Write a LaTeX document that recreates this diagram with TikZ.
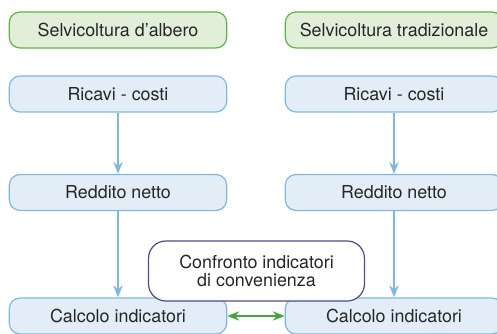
\documentclass[tikz,border=0pt]{standalone}
\usepackage{fontspec}
\setmainfont{TeX Gyre Heros}
\usetikzlibrary{positioning}
\usetikzlibrary{arrows.meta}

\definecolor{greenline}{RGB}{95,180,70}
\definecolor{greenfill}{RGB}{226,239,216}
\definecolor{blueline}{RGB}{125,185,228}
\definecolor{bluefill}{RGB}{226,237,248}
\definecolor{navyline}{RGB}{75,75,150}
\definecolor{arrowgreen}{RGB}{65,170,55}

\begin{document}
\begin{tikzpicture}[x=0.75pt, y=-0.75pt,
    every node/.style={font=\fontsize{13.4}{16}\selectfont, text=black!85},
    headbox/.style={rectangle, rounded corners=8pt, draw=greenline, fill=greenfill, line width=0.9pt, minimum width=163pt, minimum height=27pt},
    stepbox/.style={rectangle, rounded corners=8pt, draw=blueline, fill=bluefill, line width=0.9pt, minimum width=163pt, minimum height=27pt},
    notebox/.style={rectangle, rounded corners=13pt, draw=navyline, fill=white, line width=0.9pt, minimum width=162pt, minimum height=45pt, align=center},
    flow/.style={draw=blueline, line width=1pt, -{Stealth[length=9pt, width=7pt, inset=3pt]}},
    compare/.style={draw=arrowgreen, line width=1pt, {Stealth[length=9pt, width=7pt, inset=3pt]}-{Stealth[length=9pt, width=7pt, inset=3pt]}}]

\useasboundingbox (0,0) rectangle (497,334);

% Two columns
\foreach \c/\x/\t in {a/118/Selvicoltura d'albero, t/394/Selvicoltura tradizionale} {
    \node[headbox] (sel\c) at (\x,30) {\t};
    \node[stepbox] (ric\c) at (\x,94) {Ricavi - costi};
    \node[stepbox] (red\c) at (\x,192.5) {Reddito netto};
    \node[stepbox] (cal\c) at (\x,316) {Calcolo indicatori};
    \draw[flow] (ric\c) -- (red\c);
    \draw[flow] (red\c) -- (cal\c);
}

% Comparison
\draw[compare] (cala) -- (calt);
\node[notebox] (conf) at (256.5,271) {Confronto indicatori\\[-3pt]di convenienza};

\end{tikzpicture}
\end{document}
